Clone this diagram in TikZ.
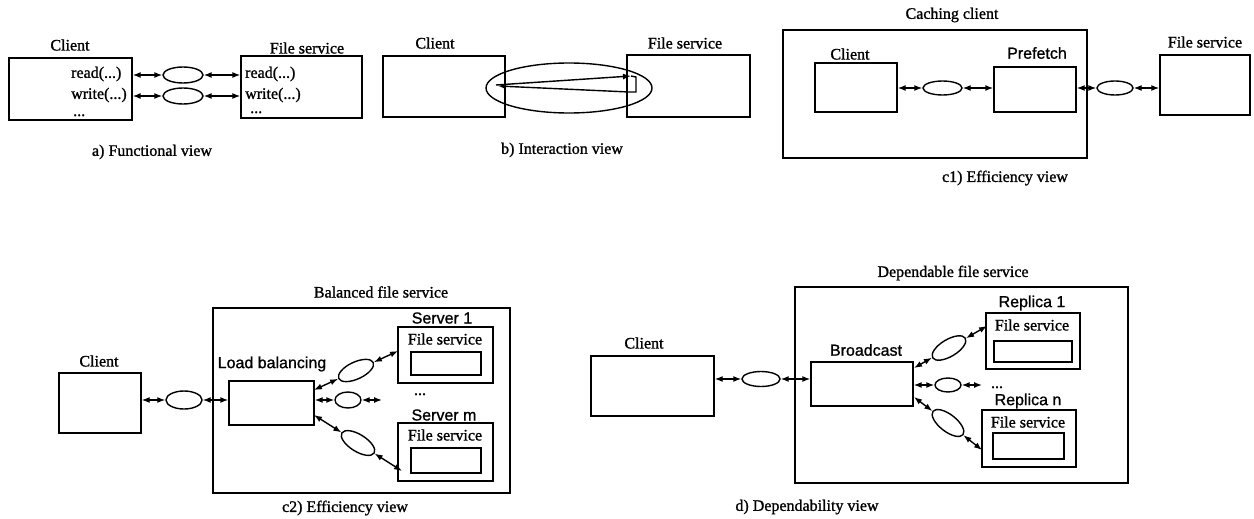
\documentclass[tikz,border=0pt]{standalone}
\usepackage{fontspec}
\setmainfont{Liberation Serif}[AutoFakeBold=1.2]
\newfontfamily\sansf{Liberation Sans}[AutoFakeBold=1.0]
\usetikzlibrary{shapes.geometric,arrows.meta}
\tikzset{
  box/.style={draw, line width=1.4pt, inner sep=0pt, rectangle},
  lbl/.style={inner sep=0pt, font=\fontsize{16pt}{19pt}\selectfont\bfseries},
  slbl/.style={inner sep=0pt, font=\fontsize{16pt}{19pt}\selectfont\sansf\bfseries},
  ell/.style={ellipse, draw, line width=1.4pt, inner sep=0pt},
  biarrow/.style={{Latex[length=8pt,width=6pt]}-{Latex[length=8pt,width=6pt]}, line width=1.4pt},
  onearrow/.style={-{Latex[length=8pt,width=6pt]}, line width=1.4pt},
  plain/.style={line width=1.4pt}
}
\begin{document}
\begin{tikzpicture}[x=1pt,y=-1pt]
\useasboundingbox (0,0) rectangle (1254,519);

% ---------- a) Functional view ----------
\node[lbl] (aCl) at (70,45) {Client};
\node[box, minimum width=123pt, minimum height=62pt] (aC) at (70.5,89) {};
\node[lbl, anchor=west] (aCr) at (71,74) {read(...)};
\node[lbl, anchor=west] (aCw) at (71,95) {write(...)};
\node[lbl, anchor=base west] (aCd) at (73,116) {...};
\node[ell, minimum width=40pt, minimum height=16pt] (ae1) at (183,75) {};
\node[ell, minimum width=40pt, minimum height=16pt] (ae2) at (183,96) {};
\node[lbl] (aFl) at (307,48) {File service};
\node[box, minimum width=121pt, minimum height=62pt] (aF) at (301.5,87) {};
\node[lbl, anchor=west] (aFr) at (245,74) {read(...)};
\node[lbl, anchor=west] (aFw) at (245,95) {write(...)};
\node[lbl, anchor=base west] (aFd) at (250,113) {...};
\draw[biarrow] (aC.east |- ae1) -- (ae1);
\draw[biarrow] (ae1) -- (aF.west |- ae1);
\draw[biarrow] (aC.east |- ae2) -- (ae2);
\draw[biarrow] (ae2) -- (aF.west |- ae2);
\node[lbl] (acap) at (152,152) {a) Functional view};

% ---------- b) Interaction view ----------
\node[lbl] (bCl) at (435,43) {Client};
\node[box, minimum width=122pt, minimum height=61pt] (bC) at (444,86.5) {};
\node[lbl] (bFl) at (685,43) {File service};
\node[box, minimum width=123pt, minimum height=62pt] (bF) at (688.5,86) {};
\node[ell, minimum width=166pt, minimum height=50pt] (bE) at (569,88) {};
\coordinate (bs) at (496,85);
\coordinate (bt) at (631,76);
\coordinate (bq) at (636,77);
\coordinate (bq2) at (636,92);
\coordinate (bu) at (629,92);
\coordinate (bs2) at (498,86);
\draw[onearrow] (bs) -- (bt);
\draw[plain] (bt) -- (bq) -- (bq2) -- (bu);
\draw[onearrow] (bu) -- (bs2);
\node[lbl] (bcap) at (562,150) {b) Interaction view};

% ---------- c1) Efficiency view ----------
\node[lbl] (cOl) at (952,15) {Caching client};
\node[box, minimum width=304pt, minimum height=128pt] (cO) at (935,94) {};
\node[lbl] (c1Cl) at (850,54) {Client};
\node[box, minimum width=82pt, minimum height=49pt] (c1C) at (856,87.5) {};
\node[ell, minimum width=39pt, minimum height=14pt] (c1e1) at (942.5,88) {};
\node[slbl] (c1Pl) at (1037,53) {Prefetch};
\node[box, minimum width=82pt, minimum height=45pt] (c1P) at (1035,89.5) {};
\node[ell, minimum width=36pt, minimum height=14pt] (c1e2) at (1115,88) {};
\node[lbl] (c1Fl) at (1205,42) {File service};
\node[box, minimum width=90pt, minimum height=60pt] (c1F) at (1205,85) {};
\draw[biarrow] (c1C.east |- c1e1) -- (c1e1);
\draw[biarrow] (c1e1) -- (c1P.west |- c1e1);
\draw[biarrow] (c1P.east |- c1e2) -- (c1e2);
\draw[biarrow] (c1e2) -- (c1F.west |- c1e2);
\node[lbl] (c1cap) at (1005,178) {c1) Efficiency view};

% ---------- c2) Efficiency view ----------
\node[lbl] (c2Cl) at (99,361) {Client};
\node[box, minimum width=82pt, minimum height=60pt] (c2C) at (100,403) {};
\node[ell, minimum width=36pt, minimum height=18pt] (c2e) at (184,400) {};
\node[box, minimum width=297pt, minimum height=185pt] (c2O) at (361.5,400.5) {};
\node[lbl] (c2Ol) at (381,292) {Balanced file service};
\node[slbl] (c2Ll) at (272,364) {Load balancing};
\node[box, minimum width=85pt, minimum height=44pt] (c2L) at (271.5,403) {};
\node[slbl] (s1l) at (442,318) {Server 1};
\node[box, minimum width=95pt, minimum height=56pt] (s1) at (445.5,355) {};
\node[lbl] (s1f) at (445,339) {File service};
\node[box, minimum width=70pt, minimum height=23pt] (s1i) at (446,363.5) {};
\node[lbl, anchor=base] (c2dots) at (420,395) {...};
\node[slbl] (sml) at (444,415) {Server m};
\node[box, minimum width=95pt, minimum height=58pt] (sm) at (445.5,452) {};
\node[lbl] (smf) at (445,435) {File service};
\node[box, minimum width=70pt, minimum height=25pt] (smi) at (446,460.5) {};
\draw[biarrow] (c2C.east |- c2e) -- (c2e);
\draw[biarrow] (c2e) -- (c2L.west |- c2e);
% upper branch
\coordinate (u0) at (314,390);
\coordinate (u1) at (398,351);
\node[ell, minimum width=38pt, minimum height=17pt, rotate=25] (c2u) at (356,370.5) {};
\draw[biarrow] (u0) -- (c2u);
\draw[biarrow] (c2u) -- (u1);
% middle branch
\node[ell, minimum width=26pt, minimum height=16pt] (c2m) at (348,400) {};
\coordinate (m1) at (382,400);
\draw[biarrow] (c2L.east |- c2m) -- (c2m);
\draw[biarrow] (c2m) -- (m1);
% lower branch
\coordinate (l0) at (314,415);
\coordinate (l1) at (402,471);
\node[ell, minimum width=38pt, minimum height=17pt, rotate=-32] (c2l) at (358,443) {};
\draw[biarrow] (l0) -- (c2l);
\draw[biarrow] (c2l) -- (l1);
\node[lbl] (c2cap) at (345,508) {c2) Efficiency view};

% ---------- d) Dependability view ----------
\node[lbl] (dCl) at (644,343) {Client};
\node[box, minimum width=123pt, minimum height=60pt] (dC) at (652.5,386) {};
\node[ell, minimum width=38pt, minimum height=15pt] (de) at (761,379) {};
\node[box, minimum width=333pt, minimum height=196pt] (dO) at (961.5,385) {};
\node[lbl] (dOl) at (953,273) {Dependable file service};
\node[slbl] (dBl) at (866,350) {Broadcast};
\node[box, minimum width=102pt, minimum height=44pt] (dB) at (862,384) {};
\node[slbl] (r1l) at (1032,303) {Replica 1};
\node[box, minimum width=94pt, minimum height=56pt] (r1) at (1033,341) {};
\node[lbl] (r1f) at (1032,325) {File service};
\node[box, minimum width=78pt, minimum height=21pt] (r1i) at (1033,351.5) {};
\node[lbl, anchor=base] (ddots) at (997,388) {...};
\node[slbl] (rnl) at (1028,401) {Replica n};
\node[box, minimum width=94pt, minimum height=57pt] (rn) at (1029,438.5) {};
\node[lbl] (rnf) at (1028,422) {File service};
\node[box, minimum width=71pt, minimum height=26pt] (rni) at (1028.5,446) {};
\draw[biarrow] (dC.east |- de) -- (de);
\draw[biarrow] (de) -- (dB.west |- de);
% upper branch
\coordinate (du0) at (914,368);
\coordinate (du1) at (987,326);
\node[ell, minimum width=38pt, minimum height=17pt, rotate=31] (deu) at (949,348) {};
\draw[biarrow] (du0) -- (deu);
\draw[biarrow] (deu) -- (du1);
% middle branch
\node[ell, minimum width=26pt, minimum height=14pt] (dem) at (948,385) {};
\coordinate (dm1) at (982,385);
\draw[biarrow] (dB.east |- dem) -- (dem);
\draw[biarrow] (dem) -- (dm1);
% lower branch
\coordinate (dl0) at (914,397);
\coordinate (dl1) at (982,450);
\node[ell, minimum width=38pt, minimum height=17pt, rotate=-38] (del) at (948,423) {};
\draw[biarrow] (dl0) -- (del);
\draw[biarrow] (del) -- (dl1);
\node[lbl] (dcap) at (807,507) {d) Dependability view};
\end{tikzpicture}
\end{document}
